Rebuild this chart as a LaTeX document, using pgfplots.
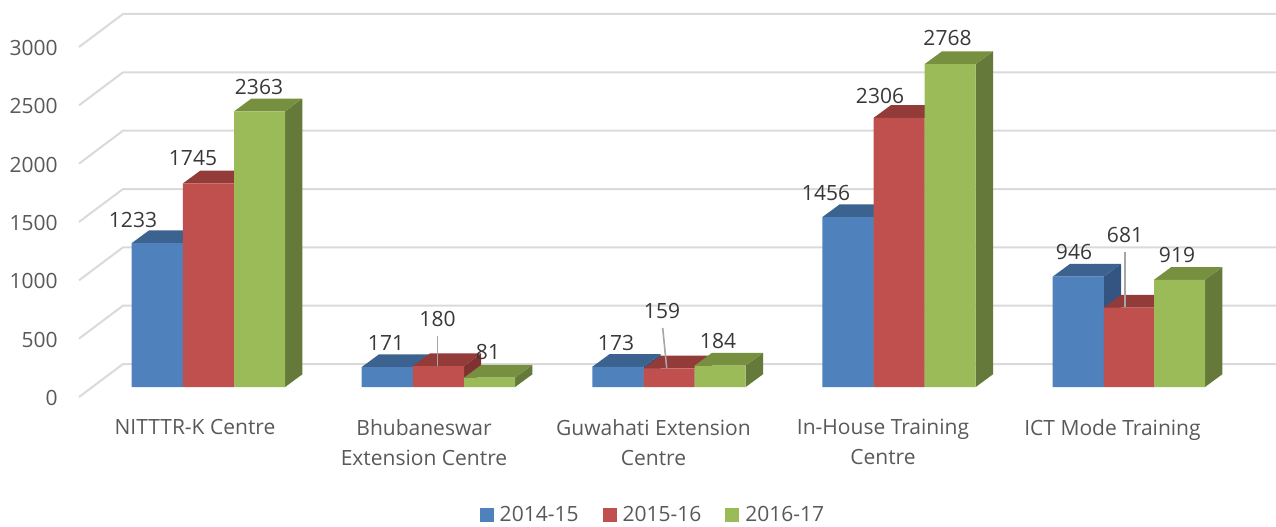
\documentclass[border=0pt]{standalone}
\usepackage{fontspec}
\setmainfont{Open Sans}
\usepackage{pgfplots}
\pgfplotsset{compat=1.18}
\definecolor{cb}{HTML}{4F81BD}\definecolor{cbt}{HTML}{3C6290}\definecolor{cbs}{HTML}{345581}
\definecolor{cr}{HTML}{C0504D}\definecolor{crt}{HTML}{933B39}\definecolor{crs}{HTML}{7F3230}
\definecolor{cg}{HTML}{9BBB59}\definecolor{cgt}{HTML}{77903F}\definecolor{cgs}{HTML}{657A3A}
\definecolor{gridc}{HTML}{DADADA}\definecolor{axt}{HTML}{595959}\definecolor{lbl}{HTML}{383838}
\newcommand{\fs}{\fontsize{10.5}{15}\selectfont}
% top and side faces of a bar: left edge x, value v
\newcommand{\faces}[4]{%
  \pgfmathsetmacro{\xa}{#1}\pgfmathsetmacro{\xb}{#1+51}
  \pgfmathsetmacro{\xc}{#1+51+17.3}\pgfmathsetmacro{\xd}{#1+17.3}
  \pgfmathsetmacro{\yt}{#2+109}\pgfmathsetmacro{\yv}{#2}
  \edef\tmp{\noexpand\addplot[forget plot,fill=#4,draw=none] coordinates {(\xb,0)(\xc,109)(\xc,\yt)(\xb,\yv)} -- cycle;
  \noexpand\addplot[forget plot,fill=#3,draw=none] coordinates {(\xa,\yv)(\xb,\yv)(\xc,\yt)(\xd,\yt)} -- cycle;}\tmp}
\newcommand{\dl}[3]{\node[font=\fs,text=lbl,inner sep=0pt] at (axis cs:#1,{(387-#2)/0.11667}) {#3};}
\pgfplotsset{sq/.style={legend image code/.code={\fill[##1,draw=none] (0pt,-3.5pt) rectangle (7pt,3.5pt);}}}
\begin{document}
\begin{tikzpicture}
\useasboundingbox (0,0) rectangle (638pt,263pt);
\begin{axis}[
  at={(34pt,64.5pt)},anchor=south west,
  scale only axis,width=604pt,height=198.5pt,
  xmin=68,xmax=1276,ymin=-85.7,ymax=3317,
  clip=false,
  axis line style={draw=none},
  tick style={draw=none},
  major tick length=0pt,
  xtick={195,424,653.5,883,1112.5},
  xticklabels={NITTTR-K Centre,Bhubaneswar\\Extension Centre,Guwahati Extension\\Centre,In-House Training\\Centre,ICT Mode Training},
  ytick={-85.7,414.3,914.3,1414.3,1914.3,2414.3,2914.3},
  yticklabels={0,500,1000,1500,2000,2500,3000},
  x tick label style={font=\fs,text=axt,align=center,anchor=north,inner sep=0pt,yshift=-11pt},
  y tick label style={font=\fs,text=axt,anchor=east,inner sep=0pt,xshift=-5pt,yshift=-0.5pt},
  legend columns=3,
  legend style={draw=none,fill=none,font=\fs,text=axt,at={(rel axis cs:0.4834,-0.2975)},anchor=center,inner sep=0pt,
    /tikz/every even column/.append style={column sep=12pt},
    /tikz/every odd column/.append style={column sep=3pt},
    nodes={inner sep=0pt,anchor=west}},
]
% gridlines and wall
\addplot[forget plot,color=gridc,line width=1pt] coordinates {(79,-85.7)(123,197.1)(1276,197.1)};
\addplot[forget plot,color=gridc,line width=1pt] coordinates {(79,414.3)(123,697.1)(1276,697.1)};
\addplot[forget plot,color=gridc,line width=1pt] coordinates {(79,914.3)(123,1197.1)(1276,1197.1)};
\addplot[forget plot,color=gridc,line width=1pt] coordinates {(79,1414.3)(123,1697.1)(1276,1697.1)};
\addplot[forget plot,color=gridc,line width=1pt] coordinates {(79,1914.3)(123,2197.1)(1276,2197.1)};
\addplot[forget plot,color=gridc,line width=1pt] coordinates {(79,2414.3)(123,2697.1)(1276,2697.1)};
\addplot[forget plot,color=gridc,line width=1pt] coordinates {(79,2914.3)(123,3197.1)(1276,3197.1)};
% 2014-15
\faces{131.7}{1233}{cbt}{cbs}\faces{361.7}{171}{cbt}{cbs}\faces{592.3}{173}{cbt}{cbs}\faces{822.3}{1456}{cbt}{cbs}\faces{1052.7}{946}{cbt}{cbs}
\addplot[ybar,sq,bar width=51.2,bar shift=0pt,fill=cb,draw=none] coordinates {(157.3,1233)(387.3,171)(617.9,173)(847.9,1456)(1078.3,946)};
\addlegendentry{2014-15}
% 2015-16
\faces{182.9}{1745}{crt}{crs}\faces{412.9}{180}{crt}{crs}\faces{643.5}{159}{crt}{crs}\faces{873.5}{2306}{crt}{crs}\faces{1103.9}{681}{crt}{crs}
\addplot[ybar,sq,bar width=51.2,bar shift=0pt,fill=cr,draw=none] coordinates {(208.5,1745)(438.5,180)(669.1,159)(899.1,2306)(1129.5,681)};
\addlegendentry{2015-16}
% 2016-17
\faces{234.1}{2363}{cgt}{cgs}\faces{464.1}{81}{cgt}{cgs}\faces{694.7}{184}{cgt}{cgs}\faces{924.7}{2768}{cgt}{cgs}\faces{1154}{919}{cgt}{cgs}
\addplot[ybar,sq,bar width=51,bar shift=0pt,fill=cg,draw=none] coordinates {(259.6,2363)(489.6,81)(720.2,184)(950.2,2768)(1179.5,919)};
\addlegendentry{2016-17}
% leader lines
\addplot[forget plot,color=black!35,line width=0.8pt] coordinates {(437.3,433)(437.3,180)};
\addplot[forget plot,color=black!35,line width=0.8pt] coordinates {(662.7,506)(666.7,163)};
\addplot[forget plot,color=black!35,line width=0.8pt] coordinates {(1125,1160)(1125,686)};
% data labels
\dl{133}{219.5}{1233}\dl{193}{158.5}{1745}\dl{259}{86.5}{2363}
\dl{386}{342.5}{171}\dl{437.5}{319}{180}\dl{488}{351.5}{81}
\dl{616}{342.5}{173}\dl{662}{310.5}{159}\dl{718}{340.5}{184}
\dl{826}{192.5}{1456}\dl{880}{96}{2306}\dl{947.5}{38.5}{2768}
\dl{1074}{251.5}{946}\dl{1125}{234.5}{681}\dl{1177}{254.5}{919}
\end{axis}
\end{tikzpicture}
\end{document}
